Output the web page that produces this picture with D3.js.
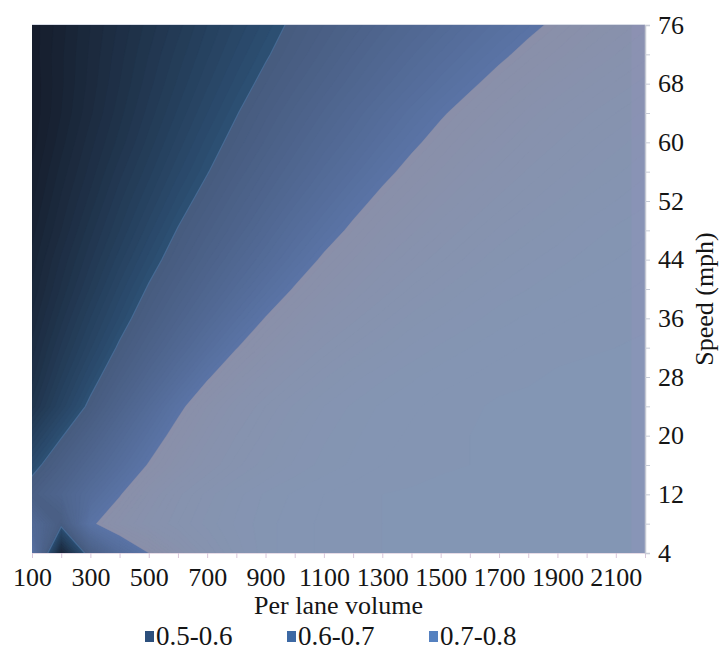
<!DOCTYPE html>
<html>
<head>
<meta charset="utf-8">
<script src="https://cdn.jsdelivr.net/npm/d3@7"></script>
<style>
  body { margin: 0; background: #ffffff; }
  text { font-family: "Liberation Serif", "Times New Roman", serif; fill: #151515; }
</style>
</head>
<body>
<svg id="chart" width="720" height="652"></svg>
<script>
// Per lane volume categories (x) and speed series (rows, top = 76 mph)
const volumes = [100, 200, 300, 400, 500, 600, 700, 800, 900, 1000, 1100,
                 1200, 1300, 1400, 1500, 1600, 1700, 1800, 1900, 2000, 2100, 2200];
const speeds = [76, 72, 68, 64, 60, 56, 52, 48, 44, 40, 36, 32, 28, 24, 20, 16, 12, 8, 4];

// Labelled ticks
const volumeLabels = [100, 300, 500, 700, 900, 1100, 1300, 1500, 1700, 1900, 2100];
const speedLabels = [76, 68, 60, 52, 44, 36, 28, 20, 12, 4];

// Legend bands
const bandNames = ["0.5-0.6", "0.6-0.7", "0.7-0.8"];
const bandEdges = [0.5, 0.6, 0.7, 0.8];

// Surface values, one row per speed (same order as speeds)
const s76 = [0.502,0.513,0.525,0.536,0.547,0.558,0.570,0.581,0.592,0.604,0.615,0.626,0.638,0.649,0.660,0.672,0.683,0.694,0.705,0.716,0.725,0.733];
const s72 = [0.502,0.514,0.526,0.538,0.550,0.562,0.574,0.586,0.598,0.610,0.622,0.635,0.647,0.659,0.671,0.683,0.695,0.707,0.717,0.727,0.735,0.743];
const s68 = [0.501,0.514,0.527,0.540,0.553,0.566,0.579,0.592,0.605,0.618,0.631,0.644,0.657,0.670,0.683,0.696,0.709,0.720,0.730,0.738,0.746,0.752];
const s64 = [0.501,0.515,0.529,0.543,0.557,0.571,0.585,0.599,0.613,0.627,0.641,0.655,0.669,0.683,0.697,0.710,0.722,0.732,0.741,0.749,0.755,0.761];
const s60 = [0.503,0.518,0.533,0.547,0.562,0.577,0.592,0.606,0.621,0.636,0.651,0.665,0.680,0.695,0.709,0.722,0.732,0.742,0.750,0.757,0.763,0.768];
const s56 = [0.506,0.522,0.537,0.553,0.568,0.584,0.599,0.615,0.631,0.646,0.662,0.677,0.693,0.708,0.721,0.733,0.742,0.751,0.758,0.764,0.769,0.774];
const s52 = [0.509,0.526,0.542,0.559,0.575,0.592,0.608,0.625,0.641,0.658,0.674,0.691,0.707,0.721,0.733,0.743,0.752,0.759,0.765,0.771,0.775,0.779];
const s48 = [0.513,0.530,0.548,0.565,0.583,0.601,0.618,0.635,0.653,0.671,0.688,0.705,0.721,0.733,0.744,0.753,0.761,0.767,0.772,0.777,0.781,0.784];
const s44 = [0.517,0.536,0.554,0.573,0.592,0.610,0.629,0.648,0.666,0.685,0.704,0.720,0.734,0.745,0.754,0.762,0.769,0.774,0.778,0.782,0.785,0.788];
const s40 = [0.521,0.541,0.561,0.582,0.602,0.622,0.642,0.662,0.682,0.702,0.720,0.734,0.746,0.756,0.764,0.771,0.776,0.780,0.784,0.787,0.789,0.791];
const s36 = [0.526,0.548,0.570,0.591,0.613,0.635,0.657,0.679,0.701,0.720,0.736,0.748,0.758,0.767,0.773,0.778,0.783,0.786,0.789,0.791,0.793,0.794];
const s32 = [0.532,0.556,0.579,0.603,0.627,0.651,0.675,0.699,0.720,0.737,0.751,0.761,0.769,0.776,0.781,0.785,0.788,0.791,0.793,0.794,0.795,0.796];
const s28 = [0.538,0.565,0.591,0.617,0.644,0.670,0.697,0.721,0.739,0.753,0.764,0.773,0.779,0.784,0.788,0.790,0.793,0.794,0.796,0.797,0.797,0.798];
const s24 = [0.547,0.576,0.605,0.635,0.664,0.693,0.720,0.740,0.755,0.766,0.775,0.781,0.786,0.789,0.792,0.794,0.796,0.797,0.798,0.798,0.799,0.799];
const s20 = [0.569,0.598,0.626,0.655,0.683,0.711,0.733,0.750,0.762,0.772,0.779,0.784,0.788,0.791,0.793,0.795,0.796,0.797,0.798,0.798,0.799,0.799];
const s16 = [0.591,0.619,0.647,0.674,0.702,0.726,0.744,0.758,0.768,0.776,0.782,0.786,0.790,0.792,0.794,0.795,0.797,0.797,0.798,0.799,0.799,0.799];
const s12 = [0.615,0.640,0.670,0.698,0.727,0.748,0.762,0.773,0.781,0.786,0.790,0.793,0.795,0.796,0.797,0.798,0.799,0.799,0.799,0.799,0.799,0.799];
const s8  = [0.660,0.610,0.695,0.720,0.740,0.755,0.767,0.776,0.783,0.788,0.791,0.794,0.795,0.797,0.798,0.799,0.799,0.799,0.799,0.799,0.799,0.799];
const s4  = [0.695,0.520,0.620,0.670,0.700,0.730,0.755,0.772,0.783,0.788,0.791,0.794,0.795,0.797,0.798,0.799,0.799,0.799,0.799,0.799,0.799,0.799];
const surface = [s76, s72, s68, s64, s60, s56, s52, s48, s44, s40, s36, s32, s28, s24, s20, s16, s12, s8, s4];

// ---- layout ----
const plot = { left: 32, right: 645, top: 25, bottom: 553 };
const svg = d3.select("#chart");

const x = d3.scalePoint().domain(volumes).range([plot.left, plot.right]);
const y = d3.scalePoint().domain(speeds).range([plot.top, plot.bottom]);

// grid coordinates from d3.contours (cell centres at i + 0.5) to pixels
const n = volumes.length, m = speeds.length;
const gx = d3.scaleLinear().domain([0.5, n - 0.5]).range([x(volumes[0]), x(volumes[n - 1])]);
const gy = d3.scaleLinear().domain([0.5, m - 0.5]).range([y(speeds[0]), y(speeds[m - 1])]);
const projection = d3.geoTransform({
  point(px, py) { this.stream.point(gx(px), gy(py)); }
});
const path = d3.geoPath(projection);

// shaded colour inside each band, darker at the low end of the band
const bandShades = [
  d3.interpolateRgb("#151c2a", "#2d5074"),
  d3.interpolateRgb("#475b7e", "#5a74a6"),
  d3.interpolateRgb("#8a8fa9", "#8396b4")
];
function shade(v) {
  const b = Math.max(0, Math.min(2, Math.floor((v - bandEdges[0]) / 0.1 + 1e-9)));
  const t = (v - bandEdges[b]) / (bandEdges[b + 1] - bandEdges[b]);
  return bandShades[b](Math.max(0, Math.min(1, t)));
}

const step = 0.005;
const thresholds = d3.range(0, 60).map(k => +(bandEdges[0] + k * step).toFixed(3));
const contours = d3.contours().size([n, m]).thresholds(thresholds)(surface.flat());

svg.append("defs").append("clipPath").attr("id", "plot-clip")
  .append("rect")
  .attr("x", plot.left).attr("y", plot.top)
  .attr("width", plot.right - plot.left).attr("height", plot.bottom - plot.top);

const surfaceG = svg.append("g").attr("clip-path", "url(#plot-clip)");
surfaceG.selectAll("path.level")
  .data(contours)
  .join("path")
  .attr("class", "level")
  .attr("d", path)
  .attr("fill", d => shade(d.value + step / 2))
  .attr("stroke", d => shade(d.value + step / 2))
  .attr("stroke-width", 0.3);

// soft highlight along the 0.6 band edge
const edge06 = d3.contours().size([n, m]).thresholds([bandEdges[1]])(surface.flat());
surfaceG.selectAll("path.edge")
  .data(edge06)
  .join("path")
  .attr("class", "edge")
  .attr("d", path)
  .attr("fill", "none")
  .attr("stroke", "#4f7aaa")
  .attr("stroke-opacity", 0.55)
  .attr("stroke-width", 1.2);

// slightly tinted side strip along the last category
const stripX = (x(volumes[n - 2]) + x(volumes[n - 1])) / 2 + 1;
surfaceG.append("rect")
  .attr("x", stripX)
  .attr("y", plot.top)
  .attr("width", plot.right - stripX)
  .attr("height", plot.bottom - plot.top)
  .attr("fill", "#9a90c4")
  .attr("opacity", 0.22);

// faint frame on top edge
svg.append("line")
  .attr("x1", plot.left).attr("x2", plot.right)
  .attr("y1", plot.top - 0.5).attr("y2", plot.top - 0.5)
  .attr("stroke", "#d8dce6").attr("stroke-width", 1);

// ---- bottom category axis ----
const xAxis = d3.axisBottom(x)
  .tickValues(volumes)
  .tickSize(5)
  .tickPadding(10)
  .tickFormat(d => volumeLabels.includes(d) ? d : "");
const gX = svg.append("g")
  .attr("transform", `translate(0,${plot.bottom})`)
  .call(xAxis);
gX.select(".domain").attr("stroke", "#e6dbe6").attr("stroke-width", 1);
gX.selectAll(".tick line").attr("stroke", "#d9c6da");
gX.selectAll(".tick text")
  .attr("font-size", 26)
  .attr("dy", "0.71em")
  .style("font-family", '"Liberation Serif", "Times New Roman", serif')
  .attr("fill", "#151515");

// ---- right series axis ----
const yAxis = d3.axisRight(y)
  .tickValues(speeds)
  .tickSize(5)
  .tickPadding(8)
  .tickFormat(d => speedLabels.includes(d) ? d : "");
const gY = svg.append("g")
  .attr("transform", `translate(${plot.right},0)`)
  .call(yAxis);
gY.select(".domain").attr("stroke", "#c4c8d2").attr("stroke-width", 1.5);
gY.selectAll(".tick line").attr("stroke", "#c8ccd6");
gY.selectAll(".tick text")
  .attr("font-size", 26)
  .style("font-family", '"Liberation Serif", "Times New Roman", serif')
  .attr("fill", "#151515");

// ---- axis titles ----
svg.append("text")
  .attr("x", (plot.left + plot.right) / 2).attr("y", 614)
  .attr("text-anchor", "middle")
  .attr("font-size", 26)
  .text("Per lane volume");

svg.append("text")
  .attr("transform", "translate(713,299) rotate(-90)")
  .attr("text-anchor", "middle")
  .attr("font-size", 26)
  .text("Speed (mph)");

// ---- legend ----
const legendColors = ["#2c4f7c", "#3d69a4", "#5581c0"];
const legendX = [145, 287, 429];
const legend = svg.append("g").attr("class", "legend");
bandNames.forEach((name, i) => {
  const g = legend.append("g").attr("transform", `translate(${legendX[i]},645)`);
  g.append("rect").attr("x", 0).attr("y", -14).attr("width", 9).attr("height", 11)
    .attr("fill", legendColors[i]);
  g.append("text").attr("x", 11).attr("y", 0)
    .attr("font-size", 27).text(name);
});
</script>
</body>
</html>
